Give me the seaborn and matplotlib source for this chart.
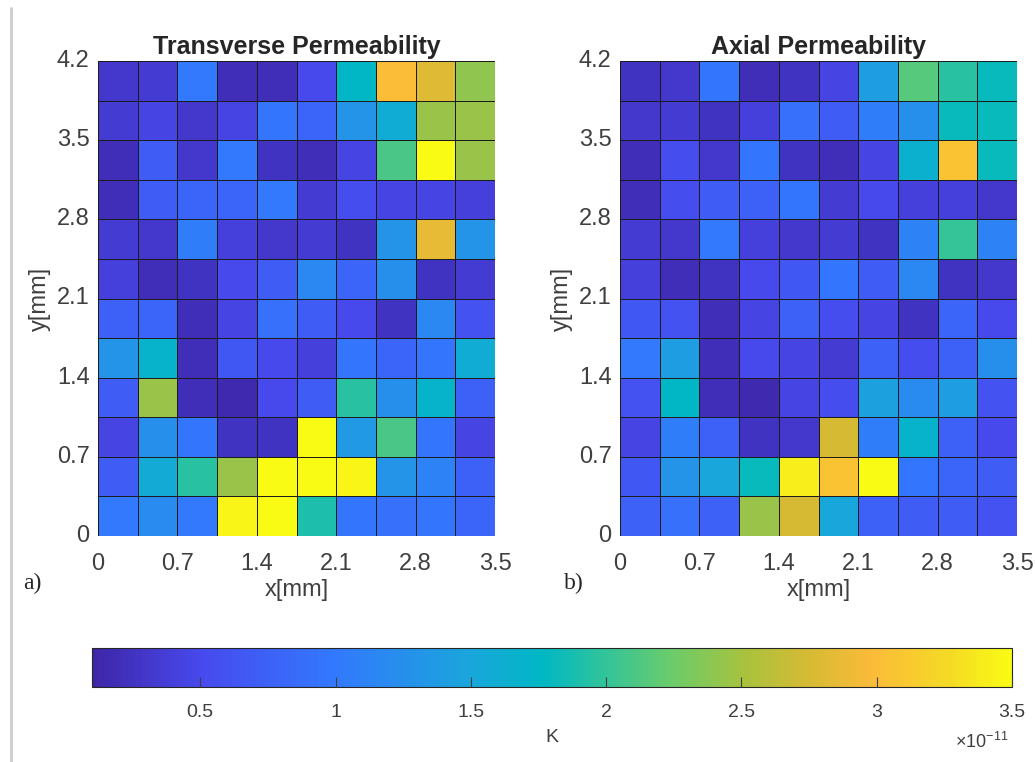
"""Transverse / axial permeability maps with a shared horizontal colorbar."""
import matplotlib

matplotlib.use("Agg")
import matplotlib.pyplot as plt
import numpy as np
import seaborn as sns
from matplotlib.colors import LinearSegmentedColormap
from matplotlib.lines import Line2D

sns.set_style("white")
plt.rcParams["font.family"] = ["Liberation Sans", "DejaVu Sans"]
plt.rcParams["mathtext.fontset"] = "custom"
plt.rcParams["mathtext.rm"] = "Liberation Sans"

# permeability in units of 1e-11, rows listed from top (y=4.2) to bottom (y=0)
transverse_k = [
    [0.30, 0.35, 1.00, 0.20, 0.20, 0.50, 1.75, 3.00, 2.80, 2.40],
    [0.35, 0.45, 0.30, 0.45, 0.95, 0.80, 1.30, 1.60, 2.45, 2.45],
    [0.20, 0.70, 0.30, 1.00, 0.25, 0.20, 0.45, 2.10, 3.50, 2.45],
    [0.20, 0.70, 0.80, 0.80, 1.00, 0.35, 0.55, 0.45, 0.45, 0.40],
    [0.35, 0.30, 1.05, 0.40, 0.30, 0.35, 0.25, 1.30, 2.85, 1.30],
    [0.40, 0.20, 0.25, 0.50, 0.70, 1.15, 0.80, 1.25, 0.25, 0.35],
    [0.75, 0.80, 0.20, 0.45, 0.90, 0.70, 0.50, 0.25, 1.15, 0.60],
    [1.30, 1.70, 0.20, 0.65, 0.50, 0.40, 0.95, 0.80, 0.95, 1.60],
    [0.70, 2.45, 0.20, 0.15, 0.50, 0.70, 1.95, 1.25, 1.70, 0.75],
    [0.45, 1.25, 0.95, 0.25, 0.25, 3.50, 1.35, 2.10, 0.95, 0.45],
    [0.70, 1.55, 1.95, 2.45, 3.50, 3.50, 3.45, 1.30, 1.10, 0.75],
    [1.00, 1.20, 1.00, 3.45, 3.50, 1.90, 0.95, 0.90, 0.95, 0.80],
]

axial_k = [
    [0.25, 0.30, 0.95, 0.20, 0.25, 0.45, 1.40, 2.15, 1.95, 1.80],
    [0.30, 0.35, 0.25, 0.40, 0.90, 0.70, 1.05, 1.25, 1.80, 1.80],
    [0.20, 0.55, 0.30, 0.95, 0.25, 0.20, 0.45, 1.65, 3.05, 1.80],
    [0.20, 0.55, 0.70, 0.75, 0.95, 0.35, 0.50, 0.40, 0.40, 0.30],
    [0.35, 0.30, 1.00, 0.40, 0.30, 0.35, 0.25, 1.10, 2.00, 1.10],
    [0.40, 0.20, 0.25, 0.50, 0.65, 0.95, 0.70, 1.15, 0.25, 0.30],
    [0.65, 0.60, 0.20, 0.45, 0.75, 0.55, 0.45, 0.25, 0.80, 0.50],
    [1.00, 1.40, 0.20, 0.50, 0.45, 0.35, 0.75, 0.55, 0.75, 1.25],
    [0.60, 1.75, 0.20, 0.15, 0.45, 0.55, 1.45, 1.20, 1.40, 0.60],
    [0.45, 1.05, 0.75, 0.25, 0.30, 2.75, 1.05, 1.70, 0.75, 0.50],
    [0.65, 1.30, 1.50, 1.80, 3.40, 3.05, 3.50, 0.95, 0.80, 0.70],
    [0.75, 0.90, 0.75, 2.45, 2.75, 1.50, 0.75, 0.70, 0.70, 0.60],
]

panel_titles = ["Transverse Permeability", "Axial Permeability"]
panel_tags = ["a)", "b)"]
x_ticks = [0, 0.7, 1.4, 2.1, 2.8, 3.5]
y_ticks = [0, 0.7, 1.4, 2.1, 2.8, 3.5, 4.2]
cbar_ticks = [0.5, 1, 1.5, 2, 2.5, 3, 3.5]
CELL_MM = 0.35
K_MIN, K_MAX = 0.1, 3.5

# rough parula
parula = LinearSegmentedColormap.from_list("parula", [
    (0.00, (0.243, 0.150, 0.660)),
    (0.12, (0.280, 0.290, 0.935)),
    (0.26, (0.200, 0.470, 0.995)),
    (0.41, (0.100, 0.650, 0.860)),
    (0.49, (0.000, 0.720, 0.770)),
    (0.56, (0.200, 0.770, 0.600)),
    (0.63, (0.420, 0.800, 0.420)),
    (0.71, (0.660, 0.760, 0.240)),
    (0.78, (0.840, 0.730, 0.200)),
    (0.85, (0.985, 0.735, 0.225)),
    (0.93, (0.960, 0.850, 0.150)),
    (1.00, (0.977, 0.984, 0.080)),
])

TEXT_GREY = "#3f3f3f"


def draw_panel(ax, grid, title):
    grid = np.asarray(grid)
    n_rows = grid.shape[0]
    sns.heatmap(grid, ax=ax, cmap=parula, vmin=K_MIN, vmax=K_MAX, cbar=False,
                linewidths=0.7, linecolor="#1c1c1c")
    ax.set_xticks([v / CELL_MM for v in x_ticks])
    ax.set_xticklabels([f"{v:g}" for v in x_ticks], rotation=0)
    ax.set_yticks([n_rows - v / CELL_MM for v in y_ticks])
    ax.set_yticklabels([f"{v:g}" for v in y_ticks], rotation=0)
    ax.tick_params(axis="both", length=0, labelsize=17, colors=TEXT_GREY)
    ax.tick_params(axis="x", pad=12)
    ax.tick_params(axis="y", pad=6)
    ax.set_xlabel("x[mm]", fontsize=17, color=TEXT_GREY, labelpad=3)
    ax.set_ylabel("y[mm]", fontsize=17, color=TEXT_GREY, labelpad=4)
    ax.set_title(title, fontsize=18, fontweight="bold", pad=5)


fig = plt.figure(figsize=(10.35, 7.62), dpi=100)
ax_left = fig.add_axes([98 / 1035, 1 - 536 / 762, 397 / 1035, 475 / 762])
ax_right = fig.add_axes([620 / 1035, 1 - 536 / 762, 397 / 1035, 475 / 762])

for ax, grid, title in zip([ax_left, ax_right], [transverse_k, axial_k], panel_titles):
    draw_panel(ax, grid, title)

serif = ["Liberation Serif", "DejaVu Serif"]
fig.text(32 / 1035, 1 - 583 / 762, panel_tags[0], fontsize=17, family=serif,
         ha="center", va="center")
fig.text(574 / 1035, 1 - 583 / 762, panel_tags[1], fontsize=17, family=serif,
         ha="center", va="center")

cax = fig.add_axes([92 / 1035, 1 - 687 / 762, 920 / 1035, 39 / 762])
cb = fig.colorbar(ax_left.collections[0], cax=cax, orientation="horizontal")
cb.set_ticks(cbar_ticks)
cb.set_ticklabels([f"{v:g}" for v in cbar_ticks])
cax.set_axisbelow(False)
cax.tick_params(direction="in", length=7, width=0.8, pad=12, labelsize=14,
                colors=TEXT_GREY)
cb.outline.set_linewidth(0.8)
cb.outline.set_edgecolor("#262626")
cb.set_label("K", fontsize=14, color=TEXT_GREY, labelpad=6)
fig.text(1008 / 1035, 1 - 742 / 762, r"$\mathregular{\times10^{-11}}$", fontsize=13,
         color=TEXT_GREY, ha="right", va="center")

# thin grey page rule on the left edge
fig.add_artist(Line2D([11 / 1035, 11 / 1035], [0, 1 - 8 / 762],
                      transform=fig.transFigure, color="#cccccc", linewidth=2))

fig.savefig("out.png", dpi=100)
